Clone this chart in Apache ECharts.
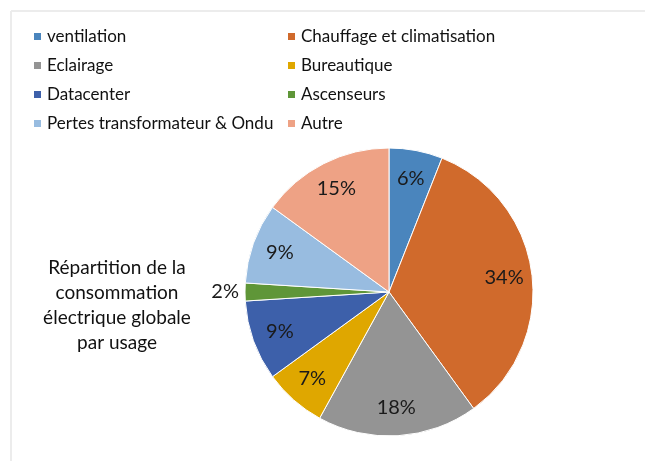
<!DOCTYPE html>
<html lang="fr">
<head>
    <meta charset="UTF-8">
    <title>Répartition de la consommation</title>
    <script src="https://cdn.jsdelivr.net/npm/echarts@6.0.0/dist/echarts.min.js"></script>
    <style>
        html, body { margin: 0; padding: 0; background: #fff; }
        #chart { width: 645px; height: 461px; }
    </style>
</head>
<body>
    <div id="chart"></div>
    <script>
        // Données (en %)
        const usages = ["ventilation", "Chauffage et climatisation", "Eclairage", "Bureautique",
                        "Datacenter", "Ascenseurs", "Pertes transformateur & Ondu", "Autre"];
        const parts = [6, 34, 18, 7, 9, 2, 9, 15];
        const couleurs = ["#4a85bd", "#d06a2c", "#949494", "#dfa700",
                          "#3d60aa", "#5f9638", "#98bce0", "#eea285"];

        const legendeGauche = ["ventilation", "Eclairage", "Datacenter", "Pertes transformateur & Ondu"];
        const legendeDroite = ["Chauffage et climatisation", "Bureautique", "Ascenseurs", "Autre"];

        const police = "Lato";
        const donnees = usages.map((nom, i) => ({ name: nom, value: parts[i] }));

        // la petite part (2%) a son étiquette à l'extérieur, sans trait
        const etiquettes = donnees.map(d => d.value < 3
            ? Object.assign({}, d, { label: { position: "outside" }, labelLine: { show: false, length: 1, length2: 0 } })
            : d);

        const legendeBase = {
            orient: "vertical",
            top: 28,
            padding: 0,
            icon: "rect",
            itemWidth: 9,
            itemHeight: 9,
            itemGap: 12,
            textStyle: { fontFamily: police, fontSize: 17, color: "#111" }
        };

        const chart = echarts.init(document.getElementById("chart"));
        chart.setOption({
            backgroundColor: "#fff",
            animation: false,
            color: couleurs,
            title: {
                text: "Répartition de la\nconsommation\nélectrique globale\npar usage",
                left: 112,
                top: 250,
                textAlign: "center",
                textStyle: { fontFamily: police, fontSize: 19, fontWeight: "normal", color: "#111", lineHeight: 25 }
            },
            legend: [
                Object.assign({}, legendeBase, { left: 32, data: legendeGauche }),
                Object.assign({}, legendeBase, { left: 286, data: legendeDroite })
            ],
            graphic: [
                { type: "line", shape: { x1: 11, y1: 11, x2: 645, y2: 11 }, style: { stroke: "#ececec", lineWidth: 2 } },
                { type: "line", shape: { x1: 11, y1: 11, x2: 11, y2: 461 }, style: { stroke: "#ececec", lineWidth: 2 } }
            ],
            series: [
                {
                    type: "pie",
                    center: [389, 292],
                    radius: 144,
                    startAngle: 90,
                    clockwise: true,
                    label: { show: false },
                    labelLine: { show: false },
                    itemStyle: { borderColor: "#fff", borderWidth: 1 },
                    emphasis: { disabled: true },
                    data: donnees
                },
                {
                    // anneau transparent pour placer les étiquettes vers l'extérieur
                    type: "pie",
                    center: [389, 292],
                    radius: [82, 144],
                    startAngle: 90,
                    clockwise: true,
                    silent: true,
                    legendHoverLink: false,
                    itemStyle: { color: "transparent" },
                    label: {
                        show: true,
                        position: "inside",
                        formatter: "{c}%",
                        fontFamily: police,
                        fontSize: 20,
                        color: "#1a1a1a"
                    },
                    labelLine: { show: false },
                    emphasis: { disabled: true },
                    data: etiquettes
                }
            ]
        });
    </script>
</body>
</html>
